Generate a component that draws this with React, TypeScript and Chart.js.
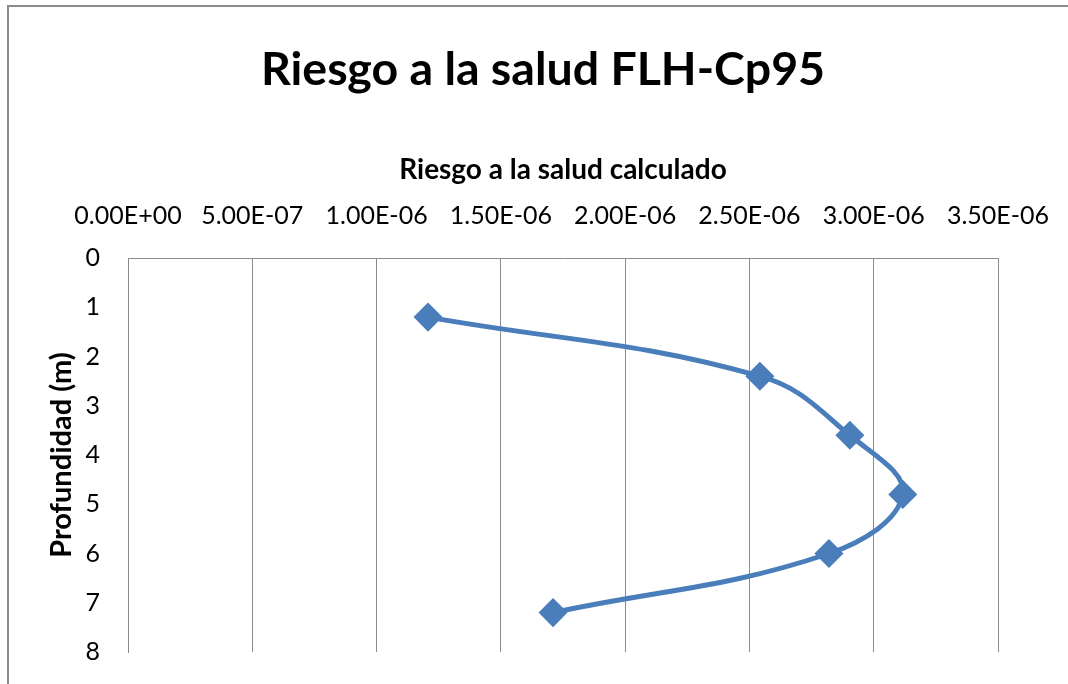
import React, { useEffect, useRef } from "react";
import { Chart, registerables } from "chart.js";

Chart.register(...registerables);

const chartTitle = "Riesgo a la salud FLH-Cp95";
const xAxisTitle = "Riesgo a la salud calculado";
const yAxisTitle = "Profundidad (m)";
const riskValues = [1.207e-6, 2.542e-6, 2.904e-6, 3.117e-6, 2.82e-6, 1.71e-6];
const depthValues = [1.2, 2.4, 3.6, 4.8, 6.0, 7.2];
const xMin = 0;
const xMax = 3.5e-6;
const xStep = 5e-7;
const yMin = 0;
const yMax = 8;
const yStep = 1;

const FONT = "Lato, 'Noto Sans', sans-serif";

function formatSci(v: number): string {
  if (Math.abs(v) < 1e-15) return "0.00E+00";
  const s = v.toExponential(2).toUpperCase();
  const [mant, exp] = s.split("E");
  const sign = exp[0] === "-" ? "-" : "+";
  const digits = exp.replace(/[+-]/, "").padStart(2, "0");
  return `${mant}E${sign}${digits}`;
}

const titlePlugin = {
  id: "customTitle",
  afterDraw(chart: any) {
    const ctx = chart.ctx;
    ctx.save();
    ctx.font = `bold 46.5px ${FONT}`;
    ctx.fillStyle = "#000";
    ctx.textAlign = "center";
    ctx.textBaseline = "middle";
    ctx.fillText(chartTitle, 543, 70);
    ctx.restore();
  },
};

export default function App() {
  const canvasRef = useRef<HTMLCanvasElement | null>(null);

  useEffect(() => {
    const canvas = canvasRef.current;
    if (!canvas) return;
    const points = riskValues.map((x, i) => ({ x, y: depthValues[i] }));
    const chart = new Chart(canvas, {
      type: "line",
      data: {
        datasets: [
          {
            data: points,
            borderColor: "#4A7EBB",
            backgroundColor: "#4A7EBB",
            borderWidth: 5,
            pointStyle: "rectRot",
            pointRadius: 11,
            pointHoverRadius: 11,
            tension: 0.4,
            fill: false,
          },
        ],
      },
      plugins: [titlePlugin],
      options: {
        responsive: false,
        animation: false,
        layout: { padding: { left: 20, top: 94, right: 70, bottom: 32 } },
        plugins: {
          legend: { display: false },
          tooltip: { enabled: false },
          title: { display: false },
        },
        scales: {
          x: {
            type: "linear",
            position: "top",
            min: xMin,
            max: xMax,
            afterFit: (scale: any) => {
              scale.height = 164;
              scale.paddingLeft = 0;
              scale.paddingRight = 0;
            },
            ticks: {
              stepSize: xStep,
              color: "#000",
              padding: 27,
              font: { family: FONT, size: 25 },
              callback: (v: any) => formatSci(Number(v)),
              maxRotation: 0,
              autoSkip: false,
            },
            grid: { display: true, color: "#8c8c8c", lineWidth: 1, drawTicks: false },
            border: { display: true, color: "#8c8c8c", width: 1 },
            title: {
              display: true,
              text: xAxisTitle,
              color: "#000",
              font: { family: FONT, size: 28, weight: "bold" },
              padding: { top: 59, bottom: 0 },
            },
          },
          y: {
            type: "linear",
            reverse: true,
            min: yMin,
            max: yMax,
            afterFit: (scale: any) => {
              scale.width = 108;
              scale.paddingTop = 0;
              scale.paddingBottom = 0;
            },
            ticks: {
              stepSize: yStep,
              color: "#000",
              padding: 28,
              font: { family: FONT, size: 25 },
            },
            grid: { display: false, drawTicks: false },
            border: { display: true, color: "#8c8c8c", width: 1 },
            title: {
              display: true,
              text: yAxisTitle,
              color: "#000",
              font: { family: FONT, size: 29, weight: "bold" },
              padding: { top: 24.6, bottom: 0 },
            },
          },
        },
      },
    });
    return () => chart.destroy();
  }, []);

  return (
    <div style={{ position: "fixed", left: 0, top: 0, width: 1068, height: 684, background: "#fff" }}>
      <div
        style={{
          position: "absolute",
          left: 7,
          top: 5,
          right: 0,
          bottom: 0,
          borderLeft: "2px solid #8c8c8c",
          borderTop: "2px solid #8c8c8c",
        }}
      />
      <canvas
        ref={canvasRef}
        width={1068}
        height={684}
        style={{ position: "absolute", left: 0, top: 0, width: 1068, height: 684 }}
      />
    </div>
  );
}
